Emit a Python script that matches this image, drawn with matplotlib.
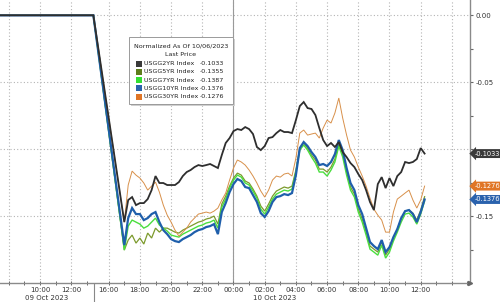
import numpy as np
import pandas as pd
import matplotlib
matplotlib.use("Agg")
import matplotlib.pyplot as plt
from matplotlib.patches import Rectangle
from matplotlib.lines import Line2D
import matplotlib.transforms as mtransforms

plt.rcParams['font.family'] = ['DejaVu Sans']

# ---------------- data ----------------
flat_times = ['2023-10-09 07:00', '2023-10-09 13:25']
flat_values = [0.0, 0.0]
start_time = '2023-10-09 17:00'
end_time = '2023-10-10 12:15'

usgg2 = [-0.1545,-0.1380,-0.1358,-0.1418,-0.1403,-0.1403,-0.1373,-0.1306,-0.1201,-0.1253,
         -0.1253,-0.1268,-0.1268,-0.1268,-0.1246,-0.1201,-0.1171,-0.1156,-0.1134,-0.1119,
         -0.1126,-0.1119,-0.1111,-0.1126,-0.1141,-0.1044,-0.0954,-0.0917,-0.0865,-0.0850,
         -0.0857,-0.0835,-0.0850,-0.0887,-0.0984,-0.1007,-0.0977,-0.0917,-0.0910,-0.0880,
         -0.0857,-0.0872,-0.0872,-0.0880,-0.0783,-0.0678,-0.0648,-0.0693,-0.0700,-0.0745,
         -0.0842,-0.0932,-0.0977,-0.0954,-0.0984,-0.0947,-0.1022,-0.1059,-0.1104,-0.1134,
         -0.1186,-0.1231,-0.1306,-0.1395,-0.1455,-0.1261,-0.1209,-0.1291,-0.1216,-0.1276,
         -0.1201,-0.1171,-0.1096,-0.1104,-0.1096,-0.1074,-0.0992,-0.1033]

usgg30 = [-0.1545,-0.1268,-0.1164,-0.1194,-0.1216,-0.1253,-0.1306,-0.1276,-0.1246,-0.1321,
          -0.1418,-0.1493,-0.1545,-0.1605,-0.1650,-0.1620,-0.1590,-0.1545,-0.1515,-0.1485,
          -0.1478,-0.1470,-0.1478,-0.1463,-0.1440,-0.1380,-0.1328,-0.1231,-0.1141,-0.1081,
          -0.1096,-0.1119,-0.1156,-0.1201,-0.1253,-0.1313,-0.1358,-0.1306,-0.1231,-0.1201,
          -0.1209,-0.1186,-0.1179,-0.1201,-0.1067,-0.0880,-0.0857,-0.0895,-0.0887,-0.0880,
          -0.0917,-0.0842,-0.0783,-0.0805,-0.0730,-0.0618,-0.0768,-0.0895,-0.1007,-0.1059,
          -0.1134,-0.1201,-0.1276,-0.1366,-0.1448,-0.1493,-0.1530,-0.1620,-0.1620,-0.1470,
          -0.1373,-0.1351,-0.1328,-0.1306,-0.1380,-0.1440,-0.1380,-0.1276]

usgg10 = [-0.1717,-0.1515,-0.1440,-0.1485,-0.1485,-0.1530,-0.1515,-0.1485,-0.1470,-0.1545,
          -0.1605,-0.1635,-0.1672,-0.1687,-0.1694,-0.1672,-0.1657,-0.1642,-0.1620,-0.1605,
          -0.1597,-0.1582,-0.1575,-0.1560,-0.1635,-0.1470,-0.1403,-0.1321,-0.1261,-0.1223,
          -0.1238,-0.1283,-0.1291,-0.1343,-0.1395,-0.1478,-0.1507,-0.1463,-0.1395,-0.1358,
          -0.1351,-0.1336,-0.1343,-0.1328,-0.1194,-0.0992,-0.0947,-0.0977,-0.1022,-0.1059,
          -0.1119,-0.1111,-0.1126,-0.1096,-0.1037,-0.0932,-0.1007,-0.1141,-0.1253,-0.1306,
          -0.1418,-0.1485,-0.1590,-0.1694,-0.1724,-0.1747,-0.1679,-0.1769,-0.1732,-0.1657,
          -0.1597,-0.1515,-0.1463,-0.1455,-0.1485,-0.1545,-0.1470,-0.1376]

usgg7 = [-0.1754,-0.1575,-0.1530,-0.1545,-0.1560,-0.1590,-0.1575,-0.1545,-0.1515,-0.1567,
         -0.1590,-0.1612,-0.1642,-0.1650,-0.1657,-0.1635,-0.1620,-0.1605,-0.1590,-0.1575,
         -0.1567,-0.1552,-0.1545,-0.1530,-0.1590,-0.1433,-0.1373,-0.1291,-0.1231,-0.1194,
         -0.1209,-0.1253,-0.1268,-0.1313,-0.1366,-0.1448,-0.1485,-0.1433,-0.1373,-0.1336,
         -0.1321,-0.1306,-0.1313,-0.1298,-0.1171,-0.1007,-0.0969,-0.1007,-0.1059,-0.1104,
         -0.1171,-0.1171,-0.1201,-0.1156,-0.1096,-0.0977,-0.1059,-0.1194,-0.1306,-0.1358,
         -0.1470,-0.1545,-0.1642,-0.1747,-0.1769,-0.1792,-0.1717,-0.1814,-0.1769,-0.1687,
         -0.1620,-0.1545,-0.1485,-0.1478,-0.1507,-0.1560,-0.1485,-0.1387]

usgg5 = [-0.1754,-0.1679,-0.1642,-0.1702,-0.1664,-0.1709,-0.1627,-0.1664,-0.1590,-0.1620,
         -0.1590,-0.1590,-0.1605,-0.1620,-0.1627,-0.1605,-0.1590,-0.1575,-0.1560,-0.1545,
         -0.1537,-0.1522,-0.1515,-0.1500,-0.1560,-0.1410,-0.1351,-0.1276,-0.1216,-0.1179,
         -0.1194,-0.1238,-0.1253,-0.1298,-0.1351,-0.1425,-0.1463,-0.1410,-0.1351,-0.1313,
         -0.1298,-0.1283,-0.1291,-0.1276,-0.1156,-0.0992,-0.0954,-0.0992,-0.1044,-0.1081,
         -0.1149,-0.1149,-0.1171,-0.1134,-0.1074,-0.0962,-0.1037,-0.1171,-0.1283,-0.1336,
         -0.1448,-0.1522,-0.1620,-0.1724,-0.1747,-0.1769,-0.1694,-0.1792,-0.1747,-0.1664,
         -0.1597,-0.1522,-0.1463,-0.1455,-0.1478,-0.1530,-0.1455,-0.1355]

series_names = ['USGG2YR Index', 'USGG5YR Index', 'USGG7YR Index', 'USGG10YR Index', 'USGG30YR Index']
last_prices = ['-0.1033', '-0.1355', '-0.1387', '-0.1376', '-0.1276']
legend_colors = ['#3a3a3a', '#5e7d1c', '#33e033', '#2a62ad', '#e07526']
line_colors = ['#2e2e2e', '#7c9a2c', '#4ade3e', '#1f5fab', '#d8904a']
line_widths = [1.3, 0.9, 1.0, 1.6, 0.7]
series_values = [usgg2, usgg5, usgg7, usgg10, usgg30]

tick_times = ['2023-10-09 08:00', '2023-10-09 10:00', '2023-10-09 12:00',
              '2023-10-09 16:00', '2023-10-09 18:00', '2023-10-09 20:00', '2023-10-09 22:00',
              '2023-10-10 00:00', '2023-10-10 02:00', '2023-10-10 04:00', '2023-10-10 06:00',
              '2023-10-10 08:00', '2023-10-10 10:00', '2023-10-10 12:00', '2023-10-10 14:00']
tick_labels = ['', '10:00', '12:00', '16:00', '18:00', '20:00', '22:00', '00:00',
               '02:00', '04:00', '06:00', '08:00', '10:00', '12:00', '']
date_labels = ['09 Oct 2023', '10 Oct 2023']
y_ticks = [0.0, -0.05, -0.10, -0.15]
y_tick_labels = ['0.00', '-0.05', '', '-0.15']   # -0.10 hidden behind the 2YR tag
tag_series = [0, 4, 3]  # 2YR, 30YR, 10YR tags on right axis

# ---------------- axis mapping (compressed gap on 09 Oct) ----------------
ORIGIN = pd.Timestamp('2023-10-10 00:00')
BREAK = pd.Timestamp('2023-10-09 14:00')
GAP_SHIFT = 1.6


def to_axis(ts):
    ts = pd.DatetimeIndex(pd.to_datetime(ts))
    h = np.asarray((ts - ORIGIN) / pd.Timedelta(hours=1), dtype=float)
    return np.where(ts < BREAK, h + GAP_SHIFT, h)


times = pd.date_range(start_time, end_time, freq='15min')
x_all = np.concatenate([to_axis(flat_times), to_axis(times)])

# ---------------- figure ----------------
W, H = 500, 302
fig = plt.figure(figsize=(W / 100, H / 100), dpi=100)
fig.patch.set_facecolor('white')
ax_bottom_px = 283
ax_right_px = 470
ax = fig.add_axes([0, (H - ax_bottom_px) / H, ax_right_px / W, ax_bottom_px / H])

px_per_h = 15.6
x0_px = 233.5
ax.set_xlim(-x0_px / px_per_h, (ax_right_px - x0_px) / px_per_h)
ax.set_ylim(-0.2, 15.3 / 1338)

grid_kw = dict(color='#b4b4b4', lw=0.8, ls=(0, (1, 2)), zorder=0)
for y in y_ticks:
    ax.axhline(y, **grid_kw)
tick_pos = to_axis(tick_times)
for xp in tick_pos:
    ax.axvline(xp, **grid_kw)
ax.axvline(to_axis(['2023-10-10 00:00'])[0], color='#9a9a9a', lw=0.8, zorder=0.5)

order = [1, 2, 3, 4, 0]
for i in order:
    yv = np.concatenate([flat_values, series_values[i]])
    ax.plot(x_all, yv, color=line_colors[i], lw=line_widths[i], zorder=2 + order.index(i),
            solid_joinstyle='miter')

# axes styling
for s in ['left', 'top']:
    ax.spines[s].set_visible(False)
ax.spines['right'].set_color('#8a8a8a')
ax.spines['bottom'].set_color('#8a8a8a')
ax.spines['right'].set_linewidth(1.0)
ax.spines['bottom'].set_linewidth(1.0)
ax.yaxis.tick_right()
ax.set_yticks(y_ticks)
ax.set_yticklabels(y_tick_labels)
ax.set_yticks([-0.025, -0.075, -0.125, -0.175], minor=True)
ax.tick_params(axis='y', which='both', direction='out', length=2.5, width=0.8,
               color='#666666', labelsize=5, labelcolor='#333333', pad=1.5)
ax.set_xticks(tick_pos)
ax.set_xticklabels(tick_labels)
minor_h = list(pd.date_range('2023-10-09 08:00', '2023-10-09 13:00', freq='1h')) + \
    list(pd.date_range('2023-10-09 16:00', '2023-10-10 15:00', freq='1h'))
ax.set_xticks(to_axis(minor_h), minor=True)
ax.tick_params(axis='x', which='both', direction='inout', length=2.5, width=0.7,
               color='#666666', labelsize=5, labelcolor='#333333', pad=1.5)
ax.plot([1], [0], marker='>', ms=3, color='#666666', transform=ax.transAxes,
        clip_on=False, zorder=10)


def fx(px):
    return px / W


def fy(py):
    return 1 - py / H


fig.text(fx(47), fy(298), date_labels[0], ha='center', va='center', fontsize=5, color='#333333')
fig.text(fx(275), fy(298), date_labels[1], ha='center', va='center', fontsize=5, color='#333333')
fig.add_artist(Line2D([fx(94), fx(94)], [fy(284), fy(302)], color='#888888', lw=0.8))

# right-side value tags
trans = mtransforms.blended_transform_factory(ax.transAxes, ax.transData)
for i in tag_series:
    ax.text(1.009, float(last_prices[i]), last_prices[i], transform=trans, ha='left', va='center',
            fontsize=4.8, color='white', zorder=20, clip_on=False,
            bbox=dict(boxstyle='larrow,pad=0.22', fc=legend_colors[i], ec='none'))

# legend box
lx0, lx1, ly0, ly1 = 129, 233, 37, 104
fig.add_artist(Rectangle((fx(lx0 + 1.5), fy(ly1 + 1.5)), (lx1 - lx0) / W, (ly1 - ly0) / H,
                         transform=fig.transFigure, fc='#cfcfcf', ec='none', zorder=30))
fig.add_artist(Rectangle((fx(lx0), fy(ly1)), (lx1 - lx0) / W, (ly1 - ly0) / H,
                         transform=fig.transFigure, fc='white', ec='#9a9a9a', lw=0.7, zorder=31))
fig.text(fx(181), fy(46), 'Normalized As Of 10/06/2023', ha='center', va='center',
         fontsize=4.6, color='#222222', zorder=32)
fig.text(fx(181), fy(55), 'Last Price', ha='center', va='center',
         fontsize=4.6, color='#222222', zorder=32)
for k, (name, val, col) in enumerate(zip(series_names, last_prices, legend_colors)):
    yy = 63.5 + k * 8.3
    fig.add_artist(Rectangle((fx(136), fy(yy + 3)), 6 / W, 6 / H, transform=fig.transFigure,
                             fc=col, ec='none', zorder=32))
    fig.text(fx(143.5), fy(yy), name, ha='left', va='center', fontsize=4.6,
             color='#222222', zorder=32)
    fig.text(fx(224), fy(yy), val, ha='right', va='center', fontsize=4.6,
             color='#222222', zorder=32)

fig.savefig('out.png', dpi=100, facecolor='white')
